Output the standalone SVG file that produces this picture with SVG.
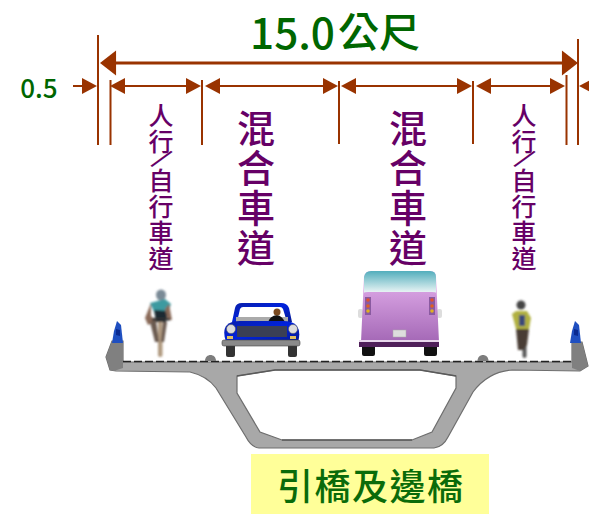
<svg xmlns="http://www.w3.org/2000/svg" width="589" height="514" viewBox="0 0 589 514">
<style>
text{font-family:"Noto Sans CJK TC","Noto Sans",sans-serif;text-anchor:middle}
.g{fill:#006600;font-weight:500}
.big{fill:#660066;font-size:38px;font-weight:500}
.sm{fill:#660066;font-size:25px;font-weight:500}
.dim{stroke:#993300;stroke-width:2;fill:none}
.thick{stroke:#993300;stroke-width:3;fill:none}
.ah{fill:#993300}
</style>
<defs>
<linearGradient id="busBody" x1="0" y1="0" x2="0" y2="1"><stop offset="0" stop-color="#e8b4f0"/><stop offset="1" stop-color="#a468b6"/></linearGradient>
<linearGradient id="busGlass" x1="0" y1="0" x2="0" y2="1"><stop offset="0" stop-color="#52aebc"/><stop offset="1" stop-color="#eef6f6"/></linearGradient>
<linearGradient id="carBlue" x1="0" y1="0" x2="1" y2="1"><stop offset="0" stop-color="#0a1fa8"/><stop offset=".5" stop-color="#0022dd"/><stop offset="1" stop-color="#061a90"/></linearGradient>
<filter id="soft" x="-20%" y="-20%" width="140%" height="140%"><feGaussianBlur stdDeviation="0.8"/></filter>
<path id="hR" d="M0 0L-15-8V8Z"/>
<path id="hL" d="M0 0L15-8V8Z"/>
<g id="lamp"><path d="M-5 18L-3 6L0-4L4 0L6 18Z" fill="#1f4fc0"/><path d="M-1 4L3 5L3 11L-1 10Z" fill="#0a2a90"/></g>
<path id="bump" d="M-5.500 5C-5.500-3 5.500-3 5.500 5Z" fill="#7d7d7d"/>
</defs>

<g id="dimensions">
<path class="dim" d="M98 35V145M110.500 80V145M202 80V145M339 81V144M473 81V144M566.500 75V145M578 39V145"/>
<path class="thick" d="M112 63H566"/>
<path class="dim" d="M73 86H92M122 86H190M218 86H326M354 86H459M488 86H552M585 86H589"/>
<use href="#hL" class="ah" transform="translate(100 63) scale(1.070 1.550)"/>
<use href="#hR" class="ah" transform="translate(578 63) scale(1.070 1.550)"/>
<use href="#hR" class="ah" transform="translate(97 86)"/>
<use href="#hL" class="ah" transform="translate(110 86)"/>
<use href="#hR" class="ah" transform="translate(201 86)"/>
<use href="#hL" class="ah" transform="translate(205 86)"/>
<use href="#hR" class="ah" transform="translate(338 86)"/>
<use href="#hL" class="ah" transform="translate(341 86)"/>
<use href="#hR" class="ah" transform="translate(472 86)"/>
<use href="#hL" class="ah" transform="translate(476 86)"/>
<use href="#hR" class="ah" transform="translate(565 86)"/>
<use href="#hL" class="ah" transform="translate(579 86)"/>
</g>

<g id="title">
<text class="g" x="292.500" y="49" font-size="42"><tspan textLength="85" lengthAdjust="spacingAndGlyphs">15.0</tspan><tspan x="379" y="47" font-size="41">公尺</tspan></text>
</g>
<g id="label-05"><text class="g" x="39" y="98" font-size="26">0.5</text></g>

<g id="lane-ped-left">
<text class="sm"><tspan x="161" y="125">人</tspan><tspan x="161" y="151">行</tspan><tspan x="158" y="162" rotate="38">/</tspan><tspan x="161" y="190">自</tspan><tspan x="161" y="216">行</tspan><tspan x="161" y="242">車</tspan><tspan x="161" y="268">道</tspan></text>
</g>
<g id="lane-mixed-left">
<text class="big"><tspan x="256" y="142">混</tspan><tspan x="256" y="182">合</tspan><tspan x="256" y="222">車</tspan><tspan x="256" y="262">道</tspan></text>
</g>
<g id="lane-mixed-right">
<text class="big"><tspan x="408" y="142">混</tspan><tspan x="408" y="182">合</tspan><tspan x="408" y="222">車</tspan><tspan x="408" y="262">道</tspan></text>
</g>
<g id="lane-ped-right">
<text class="sm"><tspan x="524" y="125">人</tspan><tspan x="524" y="151">行</tspan><tspan x="521" y="162" rotate="38">/</tspan><tspan x="524" y="190">自</tspan><tspan x="524" y="216">行</tspan><tspan x="524" y="242">車</tspan><tspan x="524" y="268">道</tspan></text>
</g>

<g id="bridge">
<path fill-rule="evenodd" fill="#a8a8a8" stroke="#6e6e6e" stroke-width="1.200" d="M112 341H123V362H572V342H582L588 366L580 371L512 370Q488 372 473 392L448 437Q443 447 434 448H259Q251 447 246 437L216 388Q207 376 190 372L116 371L110 370L106 357Z
M237 376L275 370H420L456 376V388L432 432L412 440H282L260 432L237 393Z"/>
<path d="M112 341H123V368L114 371L110 370L106 357Z" fill="#808080"/>
<path d="M572 342H582L588 366L580 371L572 368Z" fill="#808080"/>
<path d="M237 376L275 370H420L456 376" fill="none" stroke="#5a5a5a" stroke-width="1.500"/>
<path d="M282 440H412" fill="none" stroke="#5a5a5a" stroke-width="1.500"/>
<path d="M123 361.500H572" fill="none" stroke="#222" stroke-width="1.500" stroke-dasharray="8 3"/>
<use href="#bump" x="210.500" y="356"/>
<use href="#bump" x="483" y="356"/>
<use href="#lamp" x="117" y="325"/>
<use href="#lamp" x="575" y="325"/>
</g>

<g id="cyclist-left" filter="url(#soft)">
<rect x="158" y="320" width="4.500" height="37" rx="2" fill="#b09a80"/>
<ellipse cx="161" cy="295" rx="5" ry="5.500" fill="#7a8a96"/>
<path d="M150 303L165 299L171 304L168 312H154Z" fill="#3d9aa0"/>
<path d="M154 310L168 311L166 322L156 322Z" fill="#1f2c33"/>
<path d="M151 303L145 318L148 325L156 321L151 316Z" fill="#8a6a58"/>
<path d="M169 304L172 320L168 320L165 309Z" fill="#8a6a58"/>
<path d="M150 322L156 320L159 342L155 342Z" fill="#6a5a50"/>
<path d="M163 322H167L164 342H161Z" fill="#6a5a50"/>
<rect x="152" y="318" width="18" height="2.500" fill="#333"/>
</g>

<g id="car">
<rect x="226" y="342" width="9" height="15" rx="2" fill="#333"/>
<rect x="288" y="342" width="9" height="15" rx="2" fill="#333"/>
<path d="M232 322L235 308Q236 303 242 303H281Q287 303 289 308L292 322Z" fill="url(#carBlue)"/>
<path d="M237 322L240 309Q241 307 243 307H280Q282 307 283 309L287 322Z" fill="#fff"/>
<path d="M236 317H288V323H236Z" fill="#aaa"/>
<path d="M268 322Q270 316 277 315Q282 316 285 322Z" fill="#111"/>
<circle cx="277" cy="312" r="3.500" fill="#7a4a20"/>
<path d="M226 342Q222 330 227 325Q231 321 240 321H283Q293 321 297 326Q301 332 298 342Z" fill="url(#carBlue)"/>
<rect x="237" y="326" width="50" height="11" fill="#3a3f55"/>
<circle cx="231" cy="329" r="4.500" fill="#ddd" stroke="#555" stroke-width=".5"/>
<circle cx="293" cy="329" r="4.500" fill="#ddd" stroke="#555" stroke-width=".5"/>
<rect x="227" y="336" width="6" height="3" fill="#e0c060"/>
<rect x="290" y="336" width="6" height="3" fill="#e0c060"/>
<rect x="222" y="340" width="78" height="6" rx="2" fill="#8a8a8a" stroke="#444" stroke-width=".6"/>
</g>

<g id="bus">
<rect x="362" y="345" width="13" height="11" rx="2" fill="#111"/>
<rect x="424" y="345" width="13" height="11" rx="2" fill="#111"/>
<rect x="358" y="309" width="5" height="9" rx="2" fill="#ddd"/>
<rect x="437" y="309" width="5" height="9" rx="2" fill="#ddd"/>
<path d="M361 342L364 277Q365 271 371 271H430Q436 271 436 277L439 342Z" fill="url(#busBody)"/>
<path d="M364 293L364 277Q365 271 371 271H430Q436 271 436 277V293Q436 292 432 292H368Q364 292 364 293Z" fill="url(#busGlass)"/>
<rect x="365" y="297" width="6" height="18" fill="#8a5aa0"/>
<rect x="429" y="297" width="6" height="18" fill="#8a5aa0"/>
<circle cx="368" cy="300" r="1.800" fill="#e05030"/><circle cx="368" cy="306" r="1.800" fill="#e06020"/><circle cx="368" cy="311" r="1.800" fill="#e0b020"/>
<circle cx="432" cy="300" r="1.800" fill="#e05030"/><circle cx="432" cy="306" r="1.800" fill="#e06020"/><circle cx="432" cy="311" r="1.800" fill="#e0b020"/>
<rect x="393" y="330" width="13" height="7" fill="#ddd" stroke="#aaa" stroke-width=".5"/>
<rect x="359" y="340" width="80" height="7" fill="#50205a"/>
<rect x="359" y="340" width="80" height="2" fill="#e8d8ec"/>
</g>

<g id="cyclist-right" filter="url(#soft)">
<rect x="522.500" y="335" width="4" height="23" rx="2" fill="#555"/>
<ellipse cx="521" cy="305" rx="4.500" ry="4.500" fill="#444"/>
<path d="M512 314L516 311L527 311L531 318L529 329H516Z" fill="#b0b040"/>
<rect x="519" y="315" width="6" height="11" fill="#3a4a78"/>
<path d="M516 329H529L527 345L523 350H518Z" fill="#4a3d35"/>
</g>

<g id="label-box">
<rect x="251" y="454" width="238" height="60" fill="#ffff99"/>
<text x="370" y="500" font-size="36" fill="#0a6b0a" font-weight="500" textLength="186" lengthAdjust="spacing">引橋及邊橋</text>
</g>
</svg>
